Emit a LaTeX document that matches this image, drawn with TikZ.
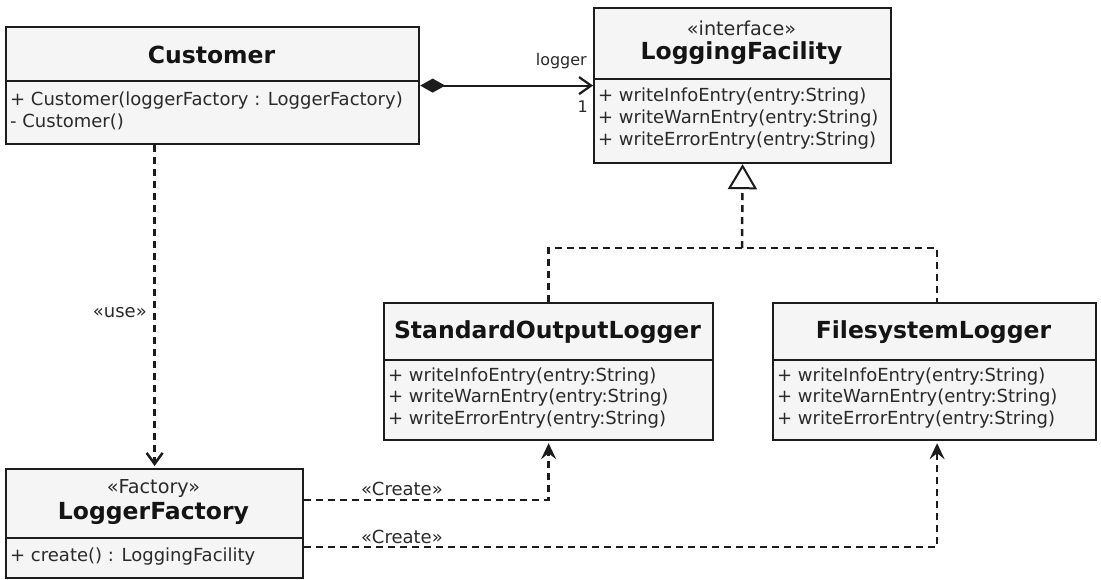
\documentclass[tikz,border=0pt]{standalone}
\usepackage{fontspec}
\setmainfont{DejaVu Sans}
\usetikzlibrary{arrows.meta}
\definecolor{boxfill}{HTML}{F5F5F5}
\definecolor{txt}{HTML}{2A2A2A}
\definecolor{edge}{HTML}{1C1C1C}
\begin{document}
\begin{tikzpicture}[x=1pt,y=-1pt,
  classbox/.style={draw=edge, line width=2.2pt, fill=boxfill, inner sep=0pt, anchor=north west},
  divline/.style={draw=edge, line width=2pt},
  title/.style={font=\bfseries\fontsize{23.5}{28}\selectfont, text=black!92, inner sep=0pt},
  stereo/.style={font=\fontsize{19.2}{22}\selectfont, text=txt, inner sep=0pt},
  member/.style={font=\fontsize{18}{21}\selectfont, text=txt, inner sep=0pt, anchor=west},
  lbl/.style={font=\fontsize{18}{21}\selectfont, text=txt, inner sep=0pt},
  smalllbl/.style={font=\fontsize{16}{19}\selectfont, text=txt, inner sep=0pt},
  dep/.style={line width=2.5pt, dash pattern=on 7pt off 5pt, draw=edge},
  barb/.style={-{Straight Barb[length=11pt,width=16pt]}},
  stealthtip/.style={-{Stealth[length=16pt,width=15pt,inset=6pt]}}
]
\useasboundingbox (0,0) rectangle (1101,579);
\fill[white] (0,0) rectangle (1101,579);

% Customer
\node[classbox, minimum width=413pt, minimum height=117pt] (cust) at (5,26) {};
\draw[divline] ([yshift=-55pt]cust.north west) -- ([yshift=-55pt]cust.north east);
\node[title] (custT) at (211.5,55) {Customer};
\node[member] (custM1) at (10,101) {+ Customer(loggerFactory : LoggerFactory)};
\node[member] (custM2) at (10,122) {- Customer()};

% LoggingFacility
\node[classbox, minimum width=297pt, minimum height=155pt] (lf) at (593,7) {};
\draw[divline] ([yshift=-72pt]lf.north west) -- ([yshift=-72pt]lf.north east);
\node[stereo] (lfS) at (741.5,28) {«interface»};
\node[title] (lfT) at (741.5,53) {LoggingFacility};
\node[member] (lfM1) at (598,97) {+ writeInfoEntry(entry:String)};
\node[member] (lfM2) at (598,119) {+ writeWarnEntry(entry:String)};
\node[member] (lfM3) at (598,141) {+ writeErrorEntry(entry:String)};

% StandardOutputLogger
\node[classbox, minimum width=329pt, minimum height=137pt] (sol) at (383,302) {};
\draw[divline] ([yshift=-58pt]sol.north west) -- ([yshift=-58pt]sol.north east);
\node[title] (solT) at (547.5,332) {StandardOutputLogger};
\node[member] (solM1) at (388,377) {+ writeInfoEntry(entry:String)};
\node[member] (solM2) at (388,398) {+ writeWarnEntry(entry:String)};
\node[member] (solM3) at (388,420) {+ writeErrorEntry(entry:String)};

% FilesystemLogger
\node[classbox, minimum width=323pt, minimum height=137pt] (fsl) at (772,302) {};
\draw[divline] ([yshift=-58pt]fsl.north west) -- ([yshift=-58pt]fsl.north east);
\node[title] (fslT) at (933.5,332) {FilesystemLogger};
\node[member] (fslM1) at (777,377) {+ writeInfoEntry(entry:String)};
\node[member] (fslM2) at (777,398) {+ writeWarnEntry(entry:String)};
\node[member] (fslM3) at (777,420) {+ writeErrorEntry(entry:String)};

% LoggerFactory
\node[classbox, minimum width=297pt, minimum height=109pt] (lfac) at (5,468) {};
\draw[divline] ([yshift=-70pt]lfac.north west) -- ([yshift=-70pt]lfac.north east);
\node[stereo] (lfacS) at (153.5,488) {«Factory»};
\node[title] (lfacT) at (153.5,513) {LoggerFactory};
\node[member] (lfacM1) at (10,557) {+ create() : LoggingFacility};

% composition
\draw[line width=2.2pt, draw=edge, {Diamond[length=25pt,width=14pt]}-{Straight Barb[length=12pt,width=17pt]}] (cust.east) -- (lf.west);
\node[smalllbl, anchor=east] (lg) at (587,61) {logger};
\node[smalllbl, anchor=east] (one) at (588,107) {1};

% use
\draw[dep, barb, shorten >=2pt] (lfac.north |- cust.south) -- (lfac.north);
\node[lbl, anchor=east] (uselbl) at (147,313) {«use»};

% realization
\coordinate (j) at (742,248);
\draw[dep] (sol.north) |- (j) -| ([xshift=2.5pt]fsl.north);
\draw[dep, -{Triangle[open,length=25pt,width=29pt,line width=2pt]}] (j) -- (lf.south);

% create
\draw[dep, stealthtip, shorten >=2pt] ([yshift=-32pt]lfac.north east) -| (sol.south);
\draw[dep, stealthtip, shorten >=2pt] ([yshift=-79pt]lfac.north east) -| ([xshift=2.5pt]fsl.south);
\node[lbl] (c1) at (402,489) {«Create»};
\node[lbl] (c2) at (402,537) {«Create»};
\end{tikzpicture}
\end{document}
